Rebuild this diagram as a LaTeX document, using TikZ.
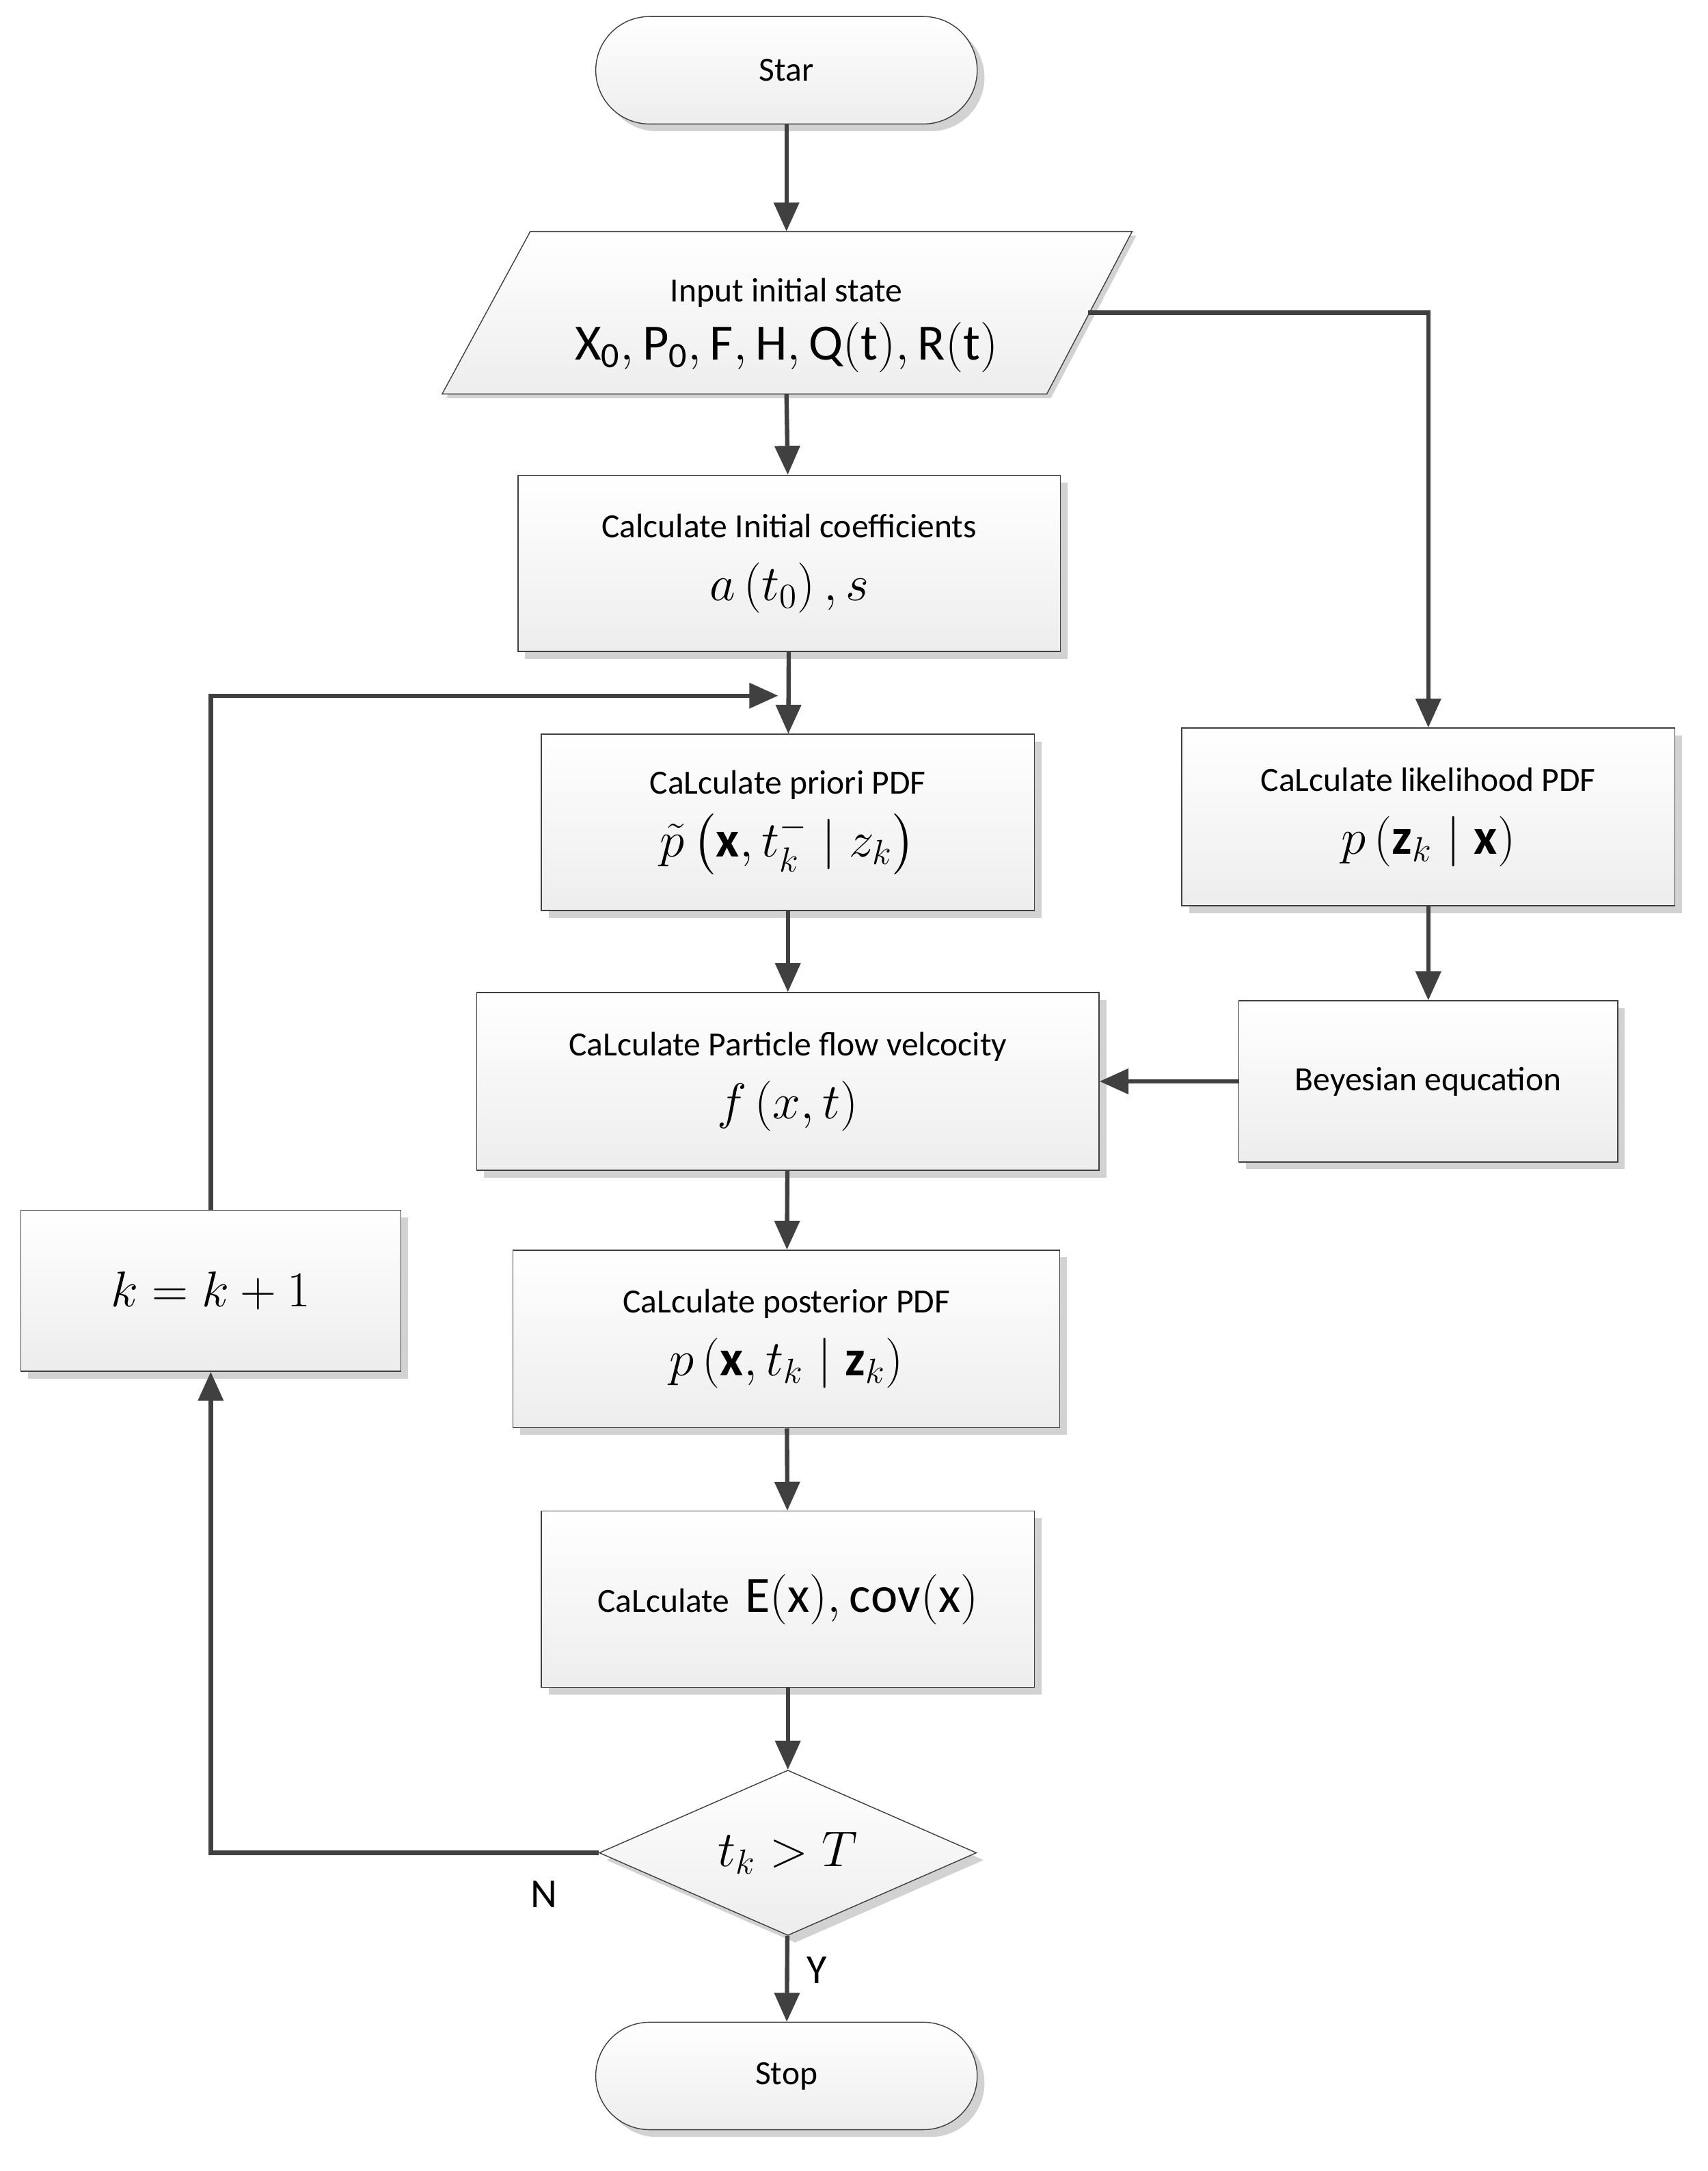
\documentclass[tikz,border=0pt]{standalone}
\usepackage{amsmath,amssymb}
\usepackage{fontspec}
\setmainfont{Carlito}
\usepackage{tikz}
\usetikzlibrary{shapes,arrows.meta,positioning,calc,shadows}

\tikzset{
    box/.style={draw=black!75, thin, top color=white, bottom color=gray!14, inner sep=0pt, align=center,
        drop shadow={shadow xshift=3pt, shadow yshift=-3pt, fill=gray!35, opacity=1},
        font=\fontsize{14}{26}\selectfont},
    term/.style={box, rounded corners=0.78cm, minimum width=5.54cm, minimum height=1.56cm},
    flow/.style={draw=black!75, line width=1.8pt, -{Triangle[length=0.42cm,width=0.36cm]}},
    lbl/.style={font=\fontsize{17}{20}\selectfont}
}
\newcommand{\fm}[1]{{\fontsize{21}{24}\selectfont $#1$}}

\begin{document}
\begin{tikzpicture}[x=0.02cm, y=-0.02cm]
    \useasboundingbox (0,0) rectangle (1240,1576);

    % Start / stop
    \node[term] (star) at (571,51) {Star};
    \node[term] (stop) at (571,1507) {Stop};

    % Input (parallelogram)
    \fill[gray!35] (388,171) -- (825,171) -- (763,289) -- (324,289) -- cycle;
    \draw[thin, draw=black!75, top color=white, bottom color=gray!14] (385,168) -- (822,168) -- (760,286) -- (321,286) -- cycle;
    \node[font=\fontsize{14}{26}\selectfont, align=center] (input) at (571,236)
        {Input initial state\\[-2pt]\fm{\mathrm{X_0,P_0,F,H,Q(t),R(t)}}};
    \coordinate (inS) at (571,286);
    \coordinate (inE) at (790,227);
    \coordinate (turn) at (1037,227);

    % Main column
    \node[box, minimum width=7.88cm, minimum height=2.56cm] (init) at (573,409)
        {Calculate Initial coefficients\\\fm{a\left(t_0\right),s}};
    \node[box, minimum width=7.16cm, minimum height=2.56cm] (prior) at (572,597)
        {CaLculate priori PDF\\\fm{\tilde p\left(\mathbf{x},t_k^-\mid z_k\right)}};
    \node[box, minimum width=9.04cm, minimum height=2.58cm] (vel) at (572,785)
        {CaLculate Particle flow velcocity\\\fm{f\left(x,t\right)}};
    \node[box, minimum width=7.94cm, minimum height=2.58cm] (post) at (571,972)
        {CaLculate posterior PDF\\\fm{p\left(\mathbf{x},t_k\mid\mathbf{z}_k\right)}};
    \node[box, minimum width=7.16cm, minimum height=2.56cm] (est) at (572,1161)
        {CaLculate \ \fm{\mathrm{E(x),cov(x)}}};
    \node[box, shape=diamond, aspect=2.28, minimum width=5.48cm, minimum height=2.4cm] (test) at (572,1345)
        {\fm{t_k>T}};

    % Right column
    \node[box, minimum width=7.16cm, minimum height=2.58cm] (like) at (1037,593)
        {CaLculate likelihood PDF\\\fm{p\left(\mathbf{z}_k\mid\mathbf{x}\right)}};
    \node[box, minimum width=5.5cm, minimum height=2.34cm] (bayes) at (1037,785)
        {Beyesian equcation};

    % Loop counter
    \node[box, minimum width=5.52cm, minimum height=2.34cm] (inc) at (153,937)
        {\fm{k=k+1}};
    \coordinate (loopTop) at (153,505);
    \coordinate (loopEnd) at (565,505);
    \coordinate (noTurn) at (153,1345);

    % Connectors
    \draw[flow] (star) -- (star |- 0,168);
    \draw[flow] (inS) -- (init);
    \draw[flow] (init) -- (prior);
    \draw[flow] (prior) -- (vel);
    \draw[flow] (vel) -- (post);
    \draw[flow] (post) -- (est);
    \draw[flow] (est) -- (test);
    \draw[flow] (test) -- node[lbl, right=4pt, pos=0.4] {Y} (stop);
    \draw[flow] (inE) -- (turn) -- (like);
    \draw[flow] (like) -- (bayes);
    \draw[flow] (bayes) -- (vel);
    \draw[flow] (test.west) -- (noTurn) -- (inc);
    \draw[flow] (inc) -- (loopTop) -- (loopEnd);
    \node[lbl] (no) at (395,1375) {N};
\end{tikzpicture}
\end{document}
